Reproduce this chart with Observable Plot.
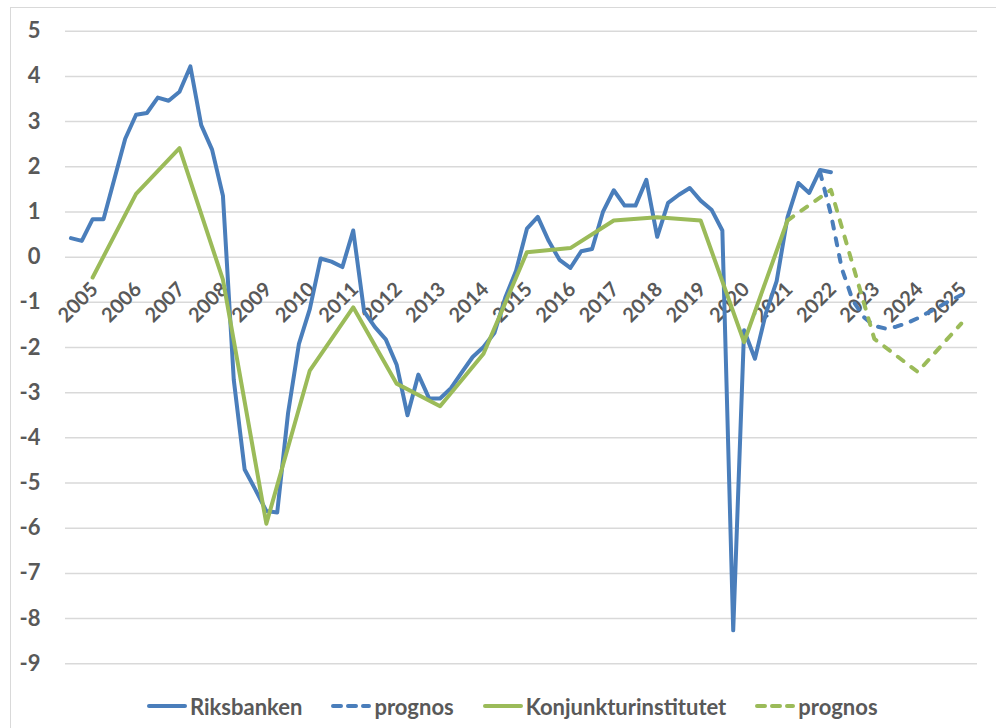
<!DOCTYPE html>
<html>
<head>
<meta charset="utf-8">
<script src="https://cdn.jsdelivr.net/npm/d3@7"></script>
<script src="https://cdn.jsdelivr.net/npm/@observablehq/plot@0.6"></script>
<style>
  html, body { margin: 0; padding: 0; background: #fff; }
  body { width: 996px; height: 728px; overflow: hidden; position: relative; font-family: Lato, "Open Sans", sans-serif; }
  #frame { position: absolute; left: 10px; top: 7px; width: 1000px; height: 740px; border: 1.5px solid #d9d9d9; box-sizing: border-box; }
  #chart { position: absolute; left: 0; top: 0; }
  #legend { position: absolute; left: 147px; top: 688px; height: 36px; display: flex; align-items: center; gap: 29px;
            font-family: Lato, sans-serif; font-weight: bold; font-size: 22px; color: #595959; }
  .item { display: flex; align-items: center; gap: 3px; }
  .item svg { display: block; }
</style>
</head>
<body>
<div id="frame"></div>
<div id="chart"></div>
<div id="legend"></div>
<script>
// ---- data ----
// Riksbanken, quarterly, starting 2005 Q1 (outcome)
const riksStartYear = 2005;
const riksbanken = [
  0.42, 0.36, 0.84, 0.84,
  1.73, 2.62, 3.15, 3.19,
  3.53, 3.46, 3.66, 4.22,
  2.92, 2.38, 1.36, -2.72,
  -4.70, -5.15, -5.62, -5.65,
  -3.45, -1.92, -1.15, -0.03,
  -0.10, -0.22, 0.59, -1.20,
  -1.55, -1.82, -2.38, -3.50,
  -2.60, -3.13, -3.13, -2.90,
  -2.55, -2.21, -1.99, -1.68,
  -0.90, -0.30, 0.63, 0.89,
  0.36, -0.06, -0.24, 0.13,
  0.18, 1.00, 1.48, 1.14,
  1.14, 1.71, 0.45, 1.20,
  1.38, 1.53, 1.25, 1.05,
  0.59, -8.26, -1.62, -2.25,
  -1.25, -0.53, 0.88, 1.64,
  1.42, 1.93, 1.88
];
// Riksbanken forecast, quarterly, starting 2022 Q3
const riksForecastStart = "2022Q3";
const riksbankenPrognos = [1.88, 0.95, -0.25, -0.95, -1.32, -1.52, -1.58, -1.54, -1.46, -1.35, -1.22, -1.09, -0.96, -0.84];

// Konjunkturinstitutet, annual
const kiYears = [2005, 2006, 2007, 2008, 2009, 2010, 2011, 2012, 2013, 2014, 2015, 2016, 2017, 2018, 2019, 2020, 2021];
const ki = [-0.45, 1.40, 2.41, -0.50, -5.90, -2.51, -1.11, -2.80, -3.30, -2.14, 0.11, 0.20, 0.81, 0.88, 0.81, -1.88, 0.81];
const kiPrognosYears = [2021, 2022, 2023, 2024, 2025];
const kiPrognos = [0.81, 1.49, -1.81, -2.54, -1.47];

// axis labels
const yearLabels = ["2005","2006","2007","2008","2009","2010","2011","2012","2013","2014","2015","2016","2017","2018","2019","2020","2021","2022","2023","2024","2025"];
const yTicks = [5, 4, 3, 2, 1, 0, -1, -2, -3, -4, -5, -6, -7, -8, -9];

const seriesNames = ["Riksbanken", "prognos", "Konjunkturinstitutet", "prognos"];
const colors = { blue: "#4a7ebb", green: "#9bbb59" };

// ---- build tables ----
// quarter index t: 0 = 2005 Q1
const qIndex = (year, q) => (year - riksStartYear) * 4 + (q - 1);
const parseQ = s => qIndex(+s.slice(0, 4), +s.slice(5));
const riksData = riksbanken.map((v, i) => ({ t: i, v }));
const f0 = parseQ(riksForecastStart) - 1; // forecast line starts at last outcome
const riksFData = riksbankenPrognos.map((v, i) => ({ t: f0 + i, v }));
// annual values are plotted at mid-year (Q3 category)
const kiData = ki.map((v, i) => ({ t: qIndex(kiYears[i], 3), v }));
const kiFData = kiPrognos.map((v, i) => ({ t: qIndex(kiPrognosYears[i], 3), v }));
const labelData = yearLabels.map(y => ({ t: qIndex(+y, 3), label: y }));

const lineStyle = { strokeWidth: 4, strokeLinejoin: "round", strokeLinecap: "round" };
const dash = "7,10";

const chart = Plot.plot({
  width: 996,
  height: 680,
  marginLeft: 65,
  marginRight: 19,
  marginTop: 30.7,
  marginBottom: 16.7,
  style: { fontFamily: "Lato, sans-serif", background: "transparent" },
  x: { domain: [-0.5, 83.5], axis: null },
  y: { domain: [-9, 5], axis: null },
  marks: [
    Plot.ruleY(yTicks, { stroke: "#d9d9d9", strokeWidth: 1.5 }),
    Plot.axisY({ ticks: yTicks, tickSize: 0, tickPadding: 25, label: null,
                 tickFormat: d => String(d), fontSize: 22, fontWeight: "bold", fill: "#595959" }),
    Plot.text(labelData, { x: "t", y: () => 0, text: "label", rotate: -45, textAnchor: "end",
                           dx: 2, dy: 29, fontSize: 20, fontWeight: "bold", fill: "#595959" }),
    Plot.line(riksData, { x: "t", y: "v", stroke: colors.blue, ...lineStyle }),
    Plot.line(riksFData, { x: "t", y: "v", stroke: colors.blue, strokeDasharray: dash, ...lineStyle }),
    Plot.line(kiData, { x: "t", y: "v", stroke: colors.green, ...lineStyle }),
    Plot.line(kiFData, { x: "t", y: "v", stroke: colors.green, strokeDasharray: dash, ...lineStyle })
  ]
});
document.getElementById("chart").appendChild(chart);

// ---- legend ----
const legendItems = [
  { name: seriesNames[0], color: colors.blue, dashed: false },
  { name: seriesNames[1], color: colors.blue, dashed: true },
  { name: seriesNames[2], color: colors.green, dashed: false },
  { name: seriesNames[3], color: colors.green, dashed: true }
];
const legend = document.getElementById("legend");
for (const it of legendItems) {
  const div = document.createElement("div");
  div.className = "item";
  div.innerHTML = `<svg width="40" height="10"><line x1="2" x2="38" y1="5" y2="5" stroke="${it.color}" stroke-width="4" stroke-linecap="round" ${it.dashed ? 'stroke-dasharray="8,7"' : ''}/></svg><span>${it.name}</span>`;
  legend.appendChild(div);
}
</script>
</body>
</html>
